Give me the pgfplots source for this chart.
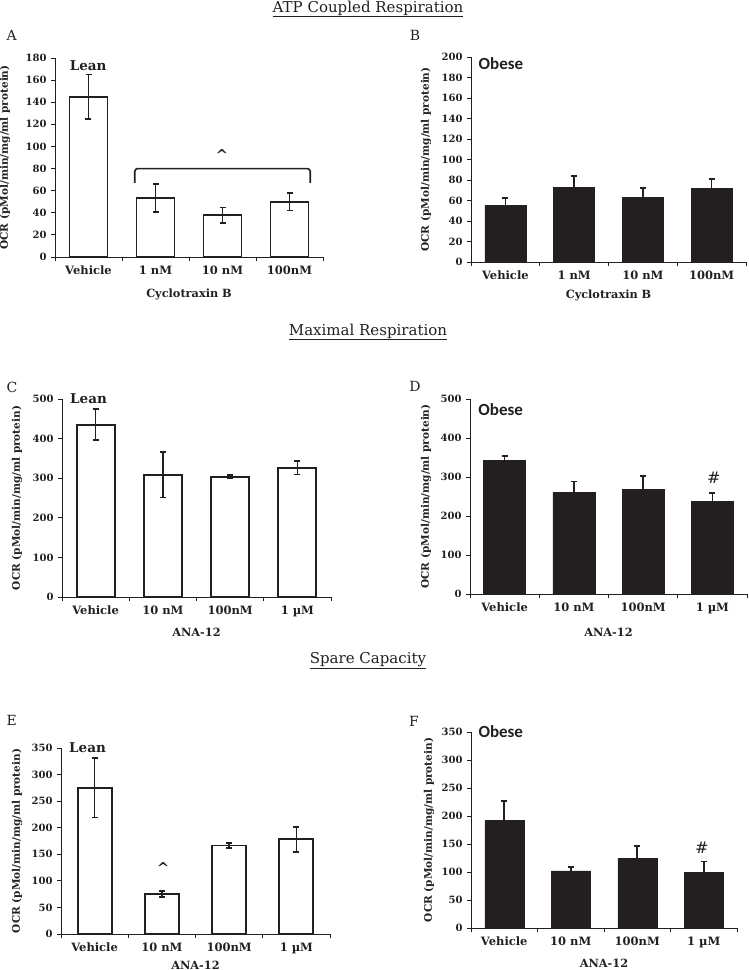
\documentclass[border=0pt]{standalone}
\usepackage{pgfplots}
\pgfplotsset{compat=1.18}
\usepackage{pgfplotstable}
\usepackage{fontspec}
\setmainfont{DejaVu Serif}
\newfontfamily\obesefont{Carlito}
\definecolor{ink}{HTML}{231F20}

\pgfplotstableread{
x y e
0 145 20
1 53.5 12.5
2 37.8 7
3 50 8
}\dataA
\pgfplotstableread{
x y e
0 55 7.5
1 72.8 11.4
2 63 9
3 71.5 9.5
}\dataB
\pgfplotstableread{
x y e
0 435 39
1 309 58
2 304 4.5
3 326 17
}\dataC
\pgfplotstableread{
x y e
0 343 10
1 261 27.5
2 268 35
3 237 22
}\dataD
\pgfplotstableread{
x y e
0 275 56
1 75 6
2 166.6 5
3 178 24
}\dataE
\pgfplotstableread{
x y e
0 192 35
1 102 7
2 124 23
3 99.4 19.6
}\dataF

\pgfplotsset{
  panel/.style={
    scale only axis, anchor=south west, clip=false,
    axis lines=left, axis line style={-, line width=0.9pt, draw=ink},
    xmin=-0.5, xmax=3.5, ymin=0,
    x tick label as interval, xtick={-0.5,0.5,1.5,2.5,3.5},
    tick align=outside, major tick length=4pt,
    tick style={line width=0.8pt, draw=ink},
    /pgf/number format/assume math mode=true,
    yticklabel={\bfseries\pgfmathprintnumber[assume math mode=true]{\tick}},
    yticklabel style={font=\bfseries\fontsize{10}{12}\selectfont, text=ink, xshift=-1pt},
    xticklabel style={font=\bfseries\fontsize{11.5}{13}\selectfont, text=ink, yshift=-1pt},
    ylabel={OCR (pMol/min/mg/ml protein)},
    every axis y label/.style={at={(axis description cs:0,0.5)}, anchor=center, rotate=90, font=\bfseries\fontsize{10.5}{12}\selectfont, text=ink},
    every axis x label/.style={at={(axis description cs:0.5,0)}, anchor=center, font=\bfseries\fontsize{11.3}{13}\selectfont, text=ink},
  },
  whitebar/.style={ybar, fill=white, draw=ink, line width=1.9pt,
    error bars/.cd, y dir=both, y explicit,
    error bar style={line width=1.7pt, draw=ink},
    error mark options={rotate=90, mark size=3pt, line width=1.7pt, draw=ink}},
  blackbar/.style={ybar, fill=ink, draw=ink, line width=0.5pt,
    error bars/.cd, y dir=plus, y explicit,
    error bar style={line width=1.7pt, draw=ink},
    error mark options={rotate=90, mark size=3pt, line width=1.7pt, draw=ink}},
}

\begin{document}
\begin{tikzpicture}
\useasboundingbox (0,0) rectangle (748pt,-970pt);

% titles
\node[font=\fontsize{15}{16}\selectfont, text=ink] at (368pt,-9pt) {\underline{ATP Coupled Respiration}};
\node[font=\fontsize{15}{16}\selectfont, text=ink] at (368pt,-332pt) {\underline{Maximal Respiration}};
\node[font=\fontsize{15}{16}\selectfont, text=ink] at (368pt,-661pt) {\underline{Spare Capacity}};

% panel letters
\node[anchor=west, font=\fontsize{14}{16}\selectfont, text=ink] at (3pt,-35pt) {A};
\node[anchor=center, font=\fontsize{14}{16}\selectfont, text=ink] at (415pt,-35pt) {B};
\node[anchor=west, font=\fontsize{14}{16}\selectfont, text=ink] at (3pt,-387pt) {C};
\node[anchor=center, font=\fontsize{14}{16}\selectfont, text=ink] at (415pt,-386pt) {D};
\node[anchor=west, font=\fontsize{14}{16}\selectfont, text=ink] at (3pt,-720pt) {E};
\node[anchor=center, font=\fontsize{14}{16}\selectfont, text=ink] at (414pt,-721pt) {F};

% A
\begin{axis}[panel, at={(55pt,-257pt)}, width=268pt, height=199pt,
  ymax=180, ytick={0,20,...,180},
  xticklabels={Vehicle,1 nM,10 nM,100nM},
  xlabel={Cyclotraxin B},
  ylabel style={yshift=50pt}, xlabel style={yshift=-37pt}]
\addplot[bar width=38pt, whitebar] table[x=x,y=y,y error=e] {\dataA};
\addplot[ink, line width=1.6pt, rounded corners=3pt] coordinates {(0.69,67) (0.69,80) (3.31,80) (3.31,67)};
\node[font=\bfseries\fontsize{15}{16}\selectfont, text=ink] at (axis cs:1.99,92) {\textasciicircum};
\node[anchor=west, font=\bfseries\fontsize{13.5}{16}\selectfont, text=ink] at (axis cs:-0.33,173) {Lean};
\end{axis}

% B
\begin{axis}[panel, at={(471pt,-262pt)}, width=275pt, height=205pt,
  ymax=200, ytick={0,20,...,200},
  xticklabels={Vehicle,1 nM,10 nM,100nM},
  xlabel={Cyclotraxin B},
  ylabel style={yshift=45pt}, xlabel style={yshift=-33pt}]
\addplot[bar width=41pt, blackbar] table[x=x,y=y,y error=e] {\dataB};
\node[anchor=west, font=\obesefont\bfseries\fontsize{17}{18}\selectfont, text=ink] at (axis cs:-0.44,194) {Obese};
\end{axis}

% C
\begin{axis}[panel, at={(62pt,-597pt)}, width=269pt, height=198pt,
  ymax=500, ytick={0,100,...,500},
  xticklabels={Vehicle,10 nM,100nM,1 µM},
  xlabel={ANA-12},
  ylabel style={yshift=45pt}, xlabel style={yshift=-35pt}]
\addplot[bar width=38pt, whitebar] table[x=x,y=y,y error=e] {\dataC};
\node[anchor=west, font=\bfseries\fontsize{13.5}{16}\selectfont, text=ink] at (axis cs:-0.43,500) {Lean};
\end{axis}

% D
\begin{axis}[panel, at={(470pt,-594pt)}, width=277pt, height=195pt,
  ymax=500, ytick={0,100,...,500},
  xticklabels={Vehicle,10 nM,100nM,1 µM},
  xlabel={ANA-12},
  ylabel style={yshift=44pt}, xlabel style={yshift=-38pt}]
\addplot[bar width=42pt, blackbar] table[x=x,y=y,y error=e] {\dataD};
\node[anchor=west, font=\obesefont\bfseries\fontsize{17}{18}\selectfont, text=ink] at (axis cs:-0.43,472) {Obese};
\node[font=\fontsize{16}{18}\selectfont, text=ink] at (axis cs:3.02,297) {\#};
\end{axis}

% E
\begin{axis}[panel, at={(61pt,-934pt)}, width=269pt, height=186pt,
  ymax=350, ytick={0,50,...,350},
  xticklabels={Vehicle,10 nM,100nM,1 µM},
  xlabel={ANA-12},
  ylabel style={yshift=44pt}, xlabel style={yshift=-31pt}]
\addplot[bar width=34pt, whitebar] table[x=x,y=y,y error=e] {\dataE};
\node[font=\bfseries\fontsize{15}{16}\selectfont, text=ink] at (axis cs:1.02,124) {\textasciicircum};
\node[anchor=west, font=\bfseries\fontsize{13.5}{16}\selectfont, text=ink] at (axis cs:-0.43,350) {Lean};
\end{axis}

% F
\begin{axis}[panel, at={(471pt,-928pt)}, width=266pt, height=196pt,
  ymax=350, ytick={0,50,...,350},
  xticklabels={Vehicle,10 nM,100nM,1 µM},
  xlabel={ANA-12},
  ylabel style={yshift=42pt}, xlabel style={yshift=-35pt}]
\addplot[bar width=39pt, blackbar] table[x=x,y=y,y error=e] {\dataF};
\node[anchor=west, font=\obesefont\bfseries\fontsize{17}{18}\selectfont, text=ink] at (axis cs:-0.44,350) {Obese};
\node[font=\fontsize{16}{18}\selectfont, text=ink] at (axis cs:2.97,143) {\#};
\end{axis}
\end{tikzpicture}
\end{document}
